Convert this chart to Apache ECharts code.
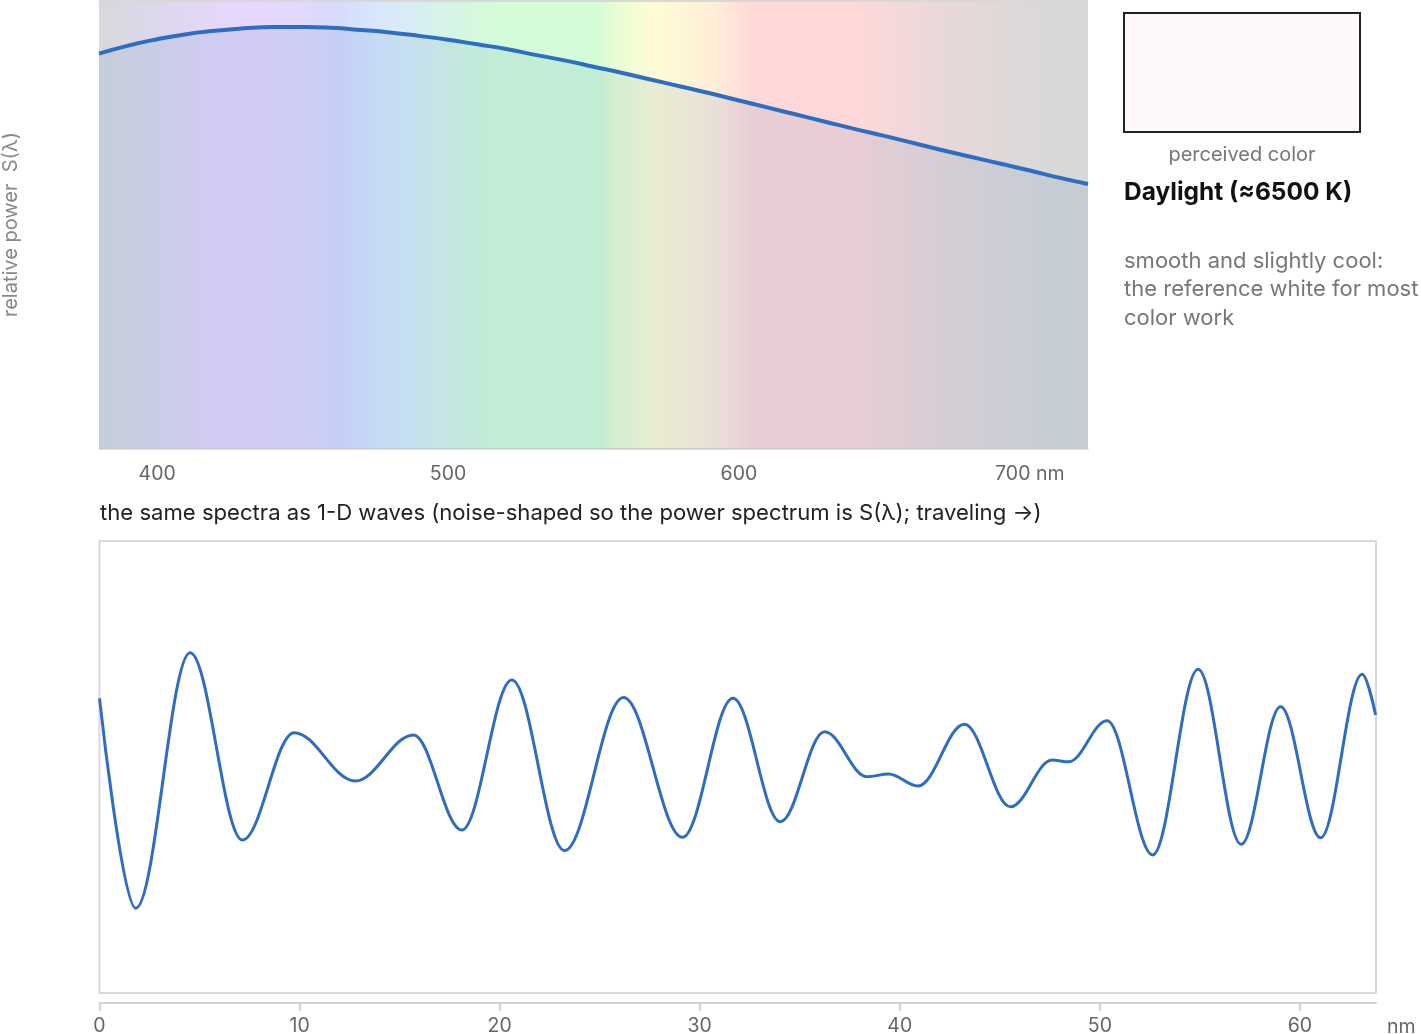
<!DOCTYPE html>
<html>
<head>
<meta charset="utf-8">
<script src="https://cdn.jsdelivr.net/npm/echarts@6/dist/echarts.min.js"></script>
<style>
html,body{margin:0;padding:0;background:#fff;}
#chart{width:1421px;height:1034px;}
</style>
</head>
<body>
<div id="chart"></div>
<script>
// ---- spectrum (relative power) ----
var wavelengths = [380,390,400,410,420,430,440,450,460,470,480,490,500,510,520,530,540,550,560,570,580,590,600,610,620,630,640,650,660,670,680,690,700,710,720];
var power = [0.937,0.956,0.971,0.983,0.991,0.997,1.000,1.000,0.998,0.993,0.987,0.979,0.970,0.959,0.948,0.934,0.921,0.906,0.891,0.875,0.859,0.843,0.826,0.809,0.792,0.775,0.758,0.742,0.725,0.708,0.692,0.676,0.660,0.643,0.628];
var specTicks = [400,500,600,700];

// ---- the wave: start, turning points and end ----
var waveX = [0,1.81,4.53,7.14,9.73,12.78,15.69,18.11,20.61,23.24,26.19,29.14,31.66,34.03,36.24,38.36,39.44,40.91,43.23,45.53,47.61,48.44,50.36,52.64,54.91,57.06,59.03,61.03,63.11,63.78];
var waveY = [0.304,-0.625,0.506,-0.323,0.152,-0.062,0.142,-0.279,0.385,-0.370,0.307,-0.311,0.304,-0.242,0.156,-0.043,-0.031,-0.084,0.189,-0.176,0.031,0.023,0.205,-0.389,0.432,-0.342,0.267,-0.313,0.410,0.230];
var waveTicks = [0,10,20,30,40,50,60];

// ---- spectrum band colours (pastel, by wavelength) ----
var bandNm = [380,400,425,446,463,477,492,515,552,557,570,590,606,640,672,710,720];
var bandColor = ['#d8d8dc','#dcd8ec','#e8d6fc','#e4d8fc','#d6dcfc','#d8e8fc','#d8f0f0','#d4fcd8','#d4fcd8','#e8fcd4','#fffcd4','#fff0d8','#ffd8d8','#ffd8d8','#e8d8d8','#d8d8d8','#d8d8d8'];

var FONT = 'Inter, "Noto Sans", sans-serif';
var specMin = 380, specMax = 720;

var stops = bandNm.map(function(n,i){ return {offset:(n-specMin)/(specMax-specMin), color:bandColor[i]}; });

var chart = echarts.init(document.getElementById('chart'), null, {renderer:'canvas'});
var option = {
  animation:false,
  textStyle:{fontFamily:FONT},
  grid:[
    {left:99, top:0, width:989, height:449, show:false, outerBoundsMode:'none', containLabel:false},
    {left:99.5, top:541, width:1276.5, height:452, show:true, borderColor:'#d9d9d9', borderWidth:2, backgroundColor:'transparent', outerBoundsMode:'none', containLabel:false}
  ],
  xAxis:[
    {gridIndex:0, type:'value', min:specMin, max:specMax,
     axisLine:{show:true, onZero:false, lineStyle:{color:'#d4d4d4', width:1.5}},
     axisTick:{show:false}, splitLine:{show:false},
     axisLabel:{customValues:specTicks, margin:15, color:'#666', fontSize:19.5, fontFamily:FONT,
       formatter:function(v){ return v===700 ? '700 nm' : String(v); }}
    },
    {gridIndex:1, type:'value', min:0, max:63.8, offset:10,
     axisLine:{show:true, onZero:false, lineStyle:{color:'#d4d4d4', width:2}},
     axisTick:{show:true, customValues:waveTicks, length:8, lineStyle:{color:'#d4d4d4', width:2}},
     splitLine:{show:false},
     axisLabel:{customValues:waveTicks, margin:13, color:'#666', fontSize:19.5, fontFamily:FONT},
     name:'nm', nameLocation:'end', nameGap:11,
     nameTextStyle:{color:'#666', fontSize:19.5, fontFamily:FONT, verticalAlign:'top', padding:[14,0,0,0]}
    }
  ],
  yAxis:[
    {gridIndex:0, type:'value', min:0, max:1.064,
     axisLine:{show:false}, axisTick:{show:false}, axisLabel:{show:false}, splitLine:{show:false},
     name:'relative power  S(\u03bb)', nameLocation:'middle', nameGap:78, nameRotate:90,
     nameTextStyle:{color:'#888', fontSize:20, fontFamily:FONT}
    },
    {gridIndex:1, type:'value', min:-1, max:1,
     axisLine:{show:false}, axisTick:{show:false}, axisLabel:{show:false}, splitLine:{show:false}}
  ],
  graphic:[
    {type:'rect', z:-10, shape:{x:99, y:0, width:989, height:449},
     style:{fill:new echarts.graphic.LinearGradient(0,0,1,0,stops)}},
    {type:'line', z:-5, shape:{x1:99, y1:1, x2:1088, y2:1}, style:{stroke:'#d8d8d8', lineWidth:2}},
    {type:'text', x:100, y:513, style:{text:'the same spectra as 1-D waves (noise-shaped so the power spectrum is S(\u03bb); traveling \u2192)', fill:'#222', font:'22.1px '+FONT, textVerticalAlign:'middle'}},
    {type:'rect', shape:{x:1124, y:13, width:236, height:119}, style:{fill:'#fef8fc', stroke:'#222', lineWidth:2}},
    {type:'text', x:1242, y:155, style:{text:'perceived color', fill:'#777', font:'20px '+FONT, textAlign:'center', textVerticalAlign:'middle'}},
    {type:'text', x:1124, y:193, style:{text:'Daylight (\u22486500 K)', fill:'#111', font:'bold 24.5px '+FONT, textAlign:'left', textVerticalAlign:'middle'}},
    {type:'text', x:1124, y:247, style:{text:'smooth and slightly cool:\nthe reference white for most\ncolor work', fill:'#777', font:'22px '+FONT, lineHeight:28.5, textAlign:'left', textVerticalAlign:'top'}}
  ],
  series:[
    {type:'line', xAxisIndex:0, yAxisIndex:0, smooth:true, showSymbol:false,
     data:wavelengths.map(function(w,i){return [w, power[i]];}),
     lineStyle:{color:'#2e6dbf', width:4},
     areaStyle:{color:'rgba(46,109,191,0.15)', origin:'start'}},
    {type:'line', xAxisIndex:1, yAxisIndex:1, smooth:0.36, smoothMonotone:'x', showSymbol:false,
     data:waveX.map(function(x,i){return [x, waveY[i]];}),
     lineStyle:{color:'#2e6dbf', width:3}}
  ]
};
chart.setOption(option);
</script>
</body>
</html>
